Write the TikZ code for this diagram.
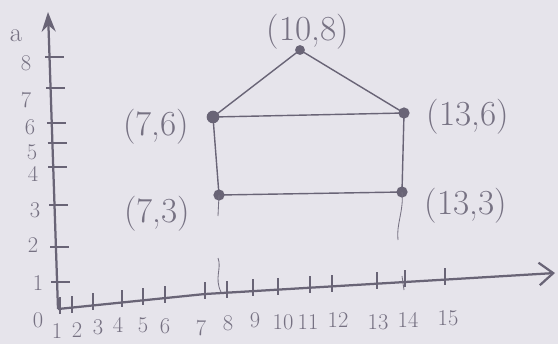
\documentclass[tikz,border=0pt]{standalone}
\usetikzlibrary{arrows.meta}
\definecolor{paper}{RGB}{230,228,235}
\definecolor{pencil}{RGB}{105,100,118}
\definecolor{lead}{RGB}{118,113,130}
\begin{document}
\begin{tikzpicture}[x=0.025cm,y=-0.025cm,
  dot/.style={circle,fill=pencil,inner sep=0pt,minimum size=9pt},
  ptlabel/.style={text=lead,font=\fontsize{25}{28}\selectfont},
  ticklabel/.style={text=lead,font=\fontsize{16}{19}\selectfont},
  axis/.style={draw=pencil,line width=1.6pt},
  edge/.style={draw=pencil,line width=1pt}]
\fill[paper] (0,0) rectangle (558,344);
\useasboundingbox (0,0) rectangle (558,344);

% axes
\coordinate (O) at (58,309);
\coordinate (ytop) at (48,12);
\coordinate (xbend) at (205,294);
\coordinate (xend) at (555,273);
\draw[axis,-{Stealth[length=14pt,width=10pt]}] (O) -- (ytop);
\draw[axis,-{Straight Barb[length=10pt,width=16pt]}] (O) -- (xbend) -- (xend);

% ticks on the y axis
\foreach \y in {57,88,123,143,167,205,247,282}
  \draw[axis,line width=1pt] ({57-8*(309-\y)/297-5},\y) -- ++(19,0);

% ticks on the x axis
\foreach \x/\y in {60/309,72/308,93/305,122/302,143/300,165/298,205/294,
  227/293,253/291,278/290,310/288,332/287,377/284,405/282,445/280}
  \draw[axis,line width=1pt] (\x,\y-12) -- (\x,\y+5);

\node[ticklabel,font=\fontsize{19}{21}\selectfont] (ya) at (16,36) {a};
\node[ticklabel] (y8) at (26,63) {8};
\node[ticklabel] (y7) at (26,100) {7};
\node[ticklabel] (y6) at (30,127) {6};
\node[ticklabel] (y5) at (32,152) {5};
\node[ticklabel] (y4) at (33,174) {4};
\node[ticklabel] (y3) at (35,210) {3};
\node[ticklabel] (y2) at (33,245) {2};
\node[ticklabel] (y1) at (38,283) {1};
\node[ticklabel] (y0) at (38,320) {0};

\node[ticklabel] (x1) at (57,331) {1};
\node[ticklabel] (x2) at (77,330) {2};
\node[ticklabel] (x3) at (98,327) {3};
\node[ticklabel] (x4) at (118,325) {4};
\node[ticklabel] (x5) at (143,325) {5};
\node[ticklabel] (x6) at (165,326) {6};
\node[ticklabel] (x7) at (201,328) {7};
\node[ticklabel] (x8) at (228,323) {8};
\node[ticklabel] (x9) at (255,320) {9};
\node[ticklabel] (x10) at (283,322) {10};
\node[ticklabel] (x11) at (308,322) {11};
\node[ticklabel] (x12) at (338,320) {12};
\node[ticklabel] (x13) at (378,322) {13};
\node[ticklabel] (x14) at (408,320) {14};
\node[ticklabel] (x15) at (448,318) {15};

% the house
\node[dot] (A) at (213,117) {};
\node[dot,minimum size=7pt] (B) at (300,50) {};
\node[dot,minimum size=8pt] (C) at (404,113) {};
\node[dot,minimum size=8pt] (D) at (219,195) {};
\node[dot,minimum size=8pt] (E) at (402,192) {};

\draw[edge] (A.center) -- (B.center) -- (C.center);
\draw[edge] (A.center) -- (C.center) -- (E.center) -- (D.center) -- cycle;

% faint drop lines
\coordinate (d1) at (218,216);
\coordinate (d2) at (218,258);
\coordinate (d3) at (221,292);
\coordinate (e1) at (398,240);
\coordinate (e2) at (402,276);
\coordinate (e3) at (404,290);
\draw[draw=lead,line width=0.6pt] (D.center) -- (d1);
\draw[draw=lead,line width=0.6pt] (d2) .. controls (222,268) and (214,278) .. (d3);
\draw[draw=lead,line width=0.6pt] (E.center) .. controls (404,210) and (396,225) .. (e1);
\draw[draw=lead,line width=0.6pt] (e2) -- (e3);

\node[ptlabel] (lB) at (308,32) {(10,8)};
\node[ptlabel] (lA) at (156,127) {(7,6)};
\node[ptlabel] (lD) at (157,214) {(7,3)};
\node[ptlabel] (lC) at (468,117) {(13,6)};
\node[ptlabel] (lE) at (466,206) {(13,3)};
\end{tikzpicture}
\end{document}
